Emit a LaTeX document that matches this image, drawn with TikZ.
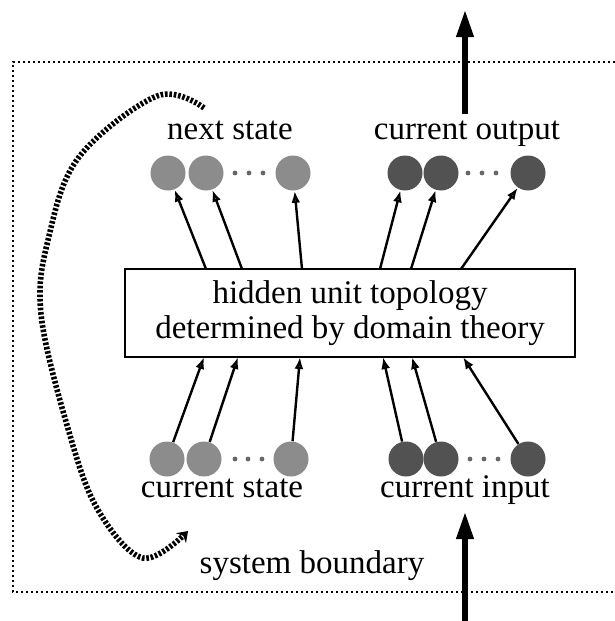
\documentclass[tikz,border=0pt]{standalone}
\usepackage{fontspec}
\setmainfont{Liberation Serif}
\usetikzlibrary{arrows.meta}

\tikzset{
  unit/.style={circle,inner sep=0pt,minimum size=17.5pt},
  light/.style={unit,fill=black!45},
  dark/.style={unit,fill=black!68},
  link/.style={line width=1.2pt,-{Latex[open,length=6pt,width=4.5pt]}},
  bigarrow/.style={line width=3.2pt,-{Triangle[length=14pt,width=8pt]}},
  feedback/.style={line width=2.8pt,dash pattern=on 1.3pt off 0.9pt,-{Stealth[length=5pt,width=7pt]}},
  boundary/.style={line width=1pt,dash pattern=on 1pt off 1.5pt},
  dotsym/.style={circle,inner sep=0pt,minimum size=2.4pt,fill=black!60},
  lab/.style={anchor=base}
}

\begin{document}
\begin{tikzpicture}[x=0.5pt,y=-0.5pt,font=\fontsize{16.5}{17.5}\selectfont]
\useasboundingbox (0,0) rectangle (615,621);

% system boundary
\draw[boundary] (615,62) -- (13,62) -- (13,592) -- (615,592);
\node[lab] (sysb) at (312,573) {system boundary};

% hidden layer
\node[draw,line width=0.8pt,fill=white,minimum width=225pt,minimum height=44pt,align=center]
  (box) at (350,313) {hidden unit topology\\determined by domain theory};

% unit groups
\foreach \x [count=\i] in {168,206,293} \node[light] (ns\i) at (\x,173) {};
\foreach \x [count=\i] in {405,441,528} \node[dark] (co\i) at (\x,173) {};
\foreach \x [count=\i] in {167,204,291} \node[light] (cs\i) at (\x,459) {};
\foreach \x [count=\i] in {406,441,528} \node[dark] (ci\i) at (\x,459) {};

\foreach \x in {235,249,263} \node[dotsym] at (\x,173) {};
\foreach \x in {468,482,496} \node[dotsym] at (\x,173) {};
\foreach \x in {235,248,262} \node[dotsym] at (\x,459) {};
\foreach \x in {470,484,498} \node[dotsym] at (\x,459) {};

\node[lab] (nslab) at (230,139) {next state};
\node[lab] (colab) at (467,139) {current output};
\node[lab] (cslab) at (222,497) {current state};
\node[lab] (cilab) at (465,497) {current input};

% connection points on the box
\foreach \x [count=\i] in {206,242,302,380,411,461} \coordinate (t\i) at (\x,269);
\foreach \x [count=\i] in {204,238,300,383,412,463} \coordinate (b\i) at (\x,357);

\foreach \a/\b in {t1/ns1,t2/ns2,t3/ns3,t4/co1,t5/co2,t6/co3}
  \draw[link] (\a) -- (\b);
\foreach \a/\b in {cs1/b1,cs2/b2,cs3/b3,ci1/b4,ci2/b5,ci3/b6}
  \draw[link] (\a) -- (\b);

% external input and output
\coordinate (inbase) at (465,621);
\coordinate (intip) at (465,511);
\coordinate (outbase) at (465,114);
\coordinate (outtip) at (465,9);
\draw[bigarrow] (inbase) -- (intip);
\draw[bigarrow] (outbase) -- (outtip);

% state feedback
\draw[feedback] plot[smooth,tension=0.6] coordinates
  {(204,108) (157,96) (79,157) (49,236) (41,314) (69,432) (98,510) (143,558) (188,531)};
\end{tikzpicture}
\end{document}
